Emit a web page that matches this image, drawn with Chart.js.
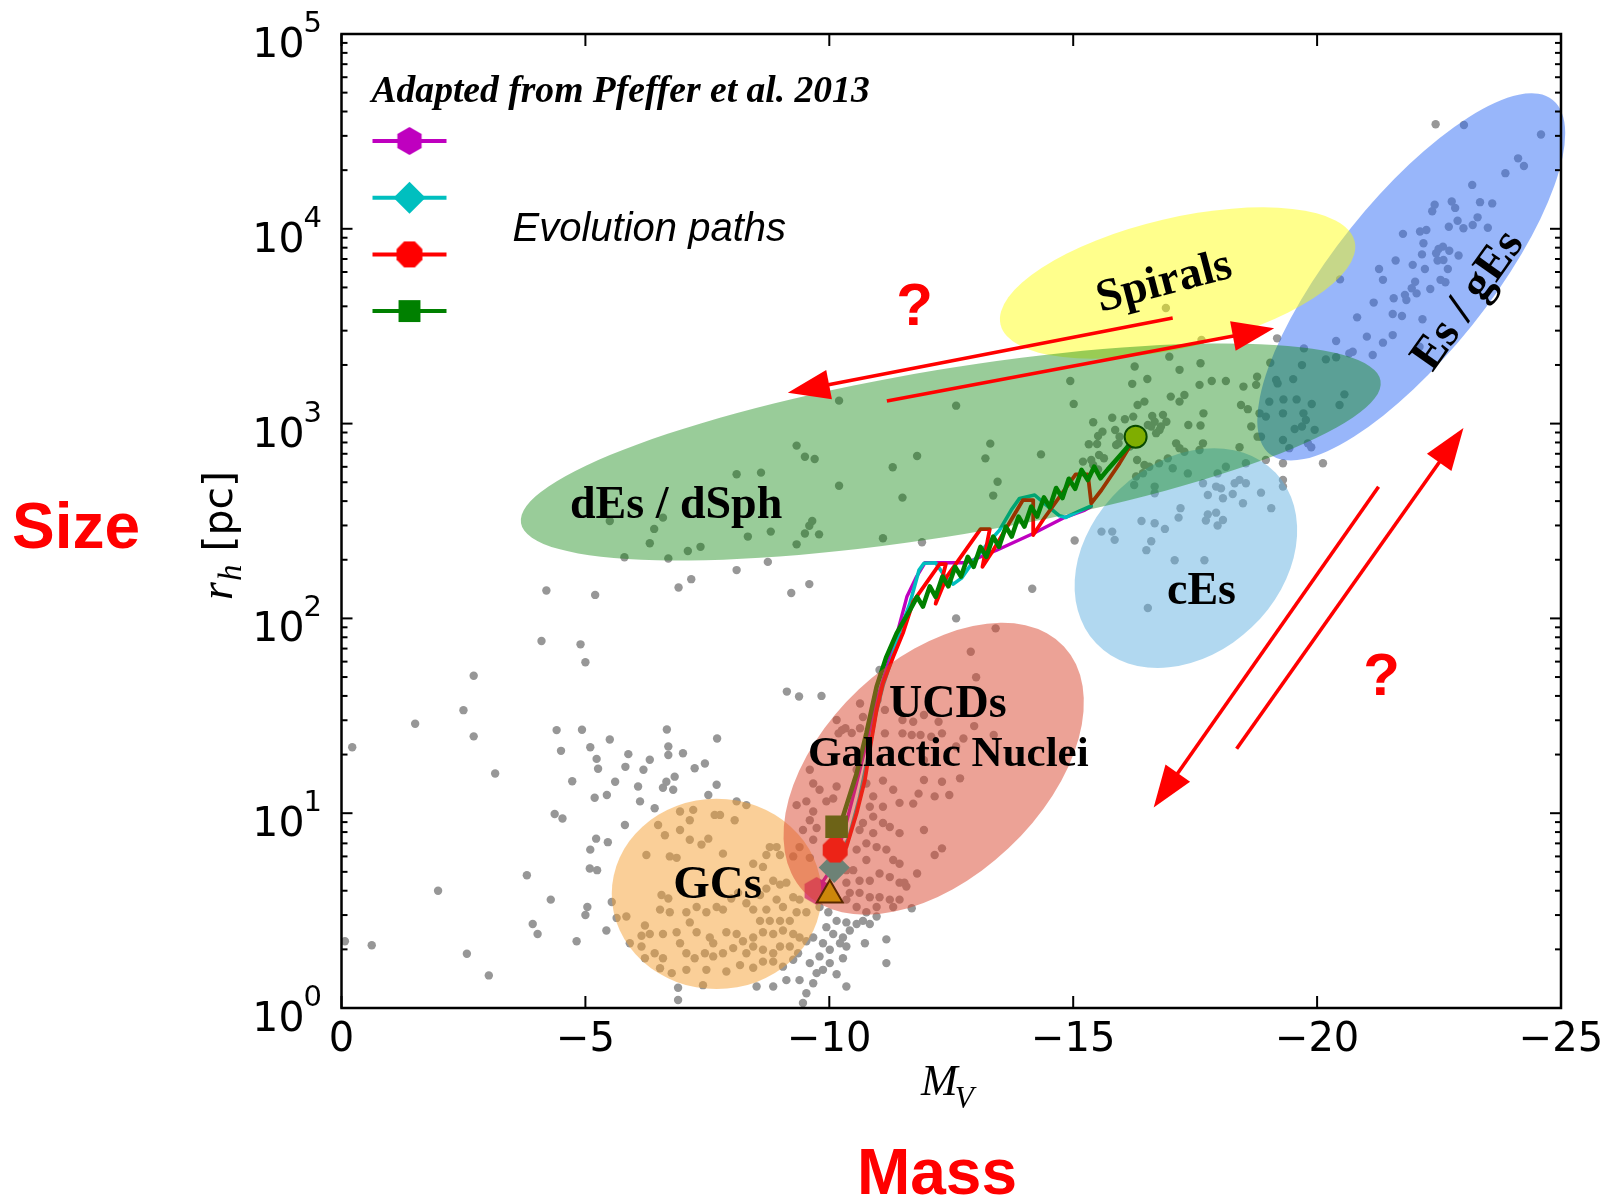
<!DOCTYPE html>
<html>
<head>
<meta charset="utf-8">
<script src="https://cdn.jsdelivr.net/npm/chart.js@4.4.1/dist/chart.umd.min.js"></script>
<style>
  html, body { margin: 0; padding: 0; background: #fff; }
  canvas { display: block; }
</style>
</head>
<body>
<canvas id="chart" width="1608" height="1198"></canvas>
<script>
// ---- Axis ticks -------------------------------------------------------
const xTickValues = [0, -5, -10, -15, -20, -25];
const yTickExponents = [0, 1, 2, 3, 4, 5];

// ---- Star-cluster / galaxy catalogue points: [M_V, r_h (pc)] ---------
const dotsFaint = [
  [-4.20,139],[-5.20,132],[-4.10,76.6],[-4.90,73.6],[-5.00,59.5],[-2.71,50.8],[-2.50,33.8],[-1.51,28.8],
  [-2.71,24.8],[-0.22,21.8],[-4.41,26.7],[-4.93,26.8],[-5.50,23.9],[-4.50,20.9],[-5.10,21.8],[-5.23,19.0],
  [-5.26,16.9],[-5.88,20.1],[-5.82,17.3],[-3.15,16.0],[-4.73,14.6],[-5.61,14.5],[-5.44,12.4],[-5.19,12.0],
  [-4.37,9.9],[-4.53,9.4],[-5.81,8.7],[-5.22,7.4],[-5.46,7.1],[-5.10,6.5],[-5.09,5.2],[-5.24,5.1],
  [-3.80,4.8],[-1.98,4.0],[-4.29,3.6],[-5.04,3.3],[-5.00,3.0],[-3.92,2.7],[-4.02,2.4],[-5.43,2.5],
  [-4.82,2.2],[-0.07,2.2],[-0.62,2.1],[-2.57,1.9],[-3.02,1.47],[-5.64,2.9],[-5.54,3.5],
  [-6.19,16.7],[-6.32,18.8],[-6.70,22.0],[-6.70,19.9],[-7.00,20.3],[-7.24,17.0],[-7.45,18.0],[-6.08,13.7],
  [-6.12,11.5],[-6.59,13.5],[-6.80,13.2],[-6.83,15.4],[-6.66,14.5],[-7.69,14.0],[-7.52,12.4],[-6.42,10.6],
  [-6.67,26.9],[-7.70,24.2]
];
const dotsGC = [
  [-6.94,10.2],[-7.14,9.2],[-7.21,10.4],[-7.65,9.8],[-7.76,9.8],[-8.06,9.2],[-8.10,11.5],[-8.30,11.0],
  [-6.49,8.7],[-6.63,7.7],[-6.94,8.2],[-7.14,7.3],[-7.38,6.9],[-7.52,7.4],[-6.73,6.0],[-6.87,5.9],
  [-7.82,6.2],[-8.44,5.5],[-8.64,5.3],[-8.78,6.7],[-8.92,6.7],[-8.71,6.1],[-8.99,6.1],[-6.25,6.1],
  [-6.56,3.8],[-6.70,3.65],[-6.53,3.2],[-6.73,3.1],[-7.07,3.1],[-7.14,2.75],[-7.28,3.3],[-7.48,3.1],
  [-7.69,3.3],[-7.82,3.2],[-7.99,3.65],[-8.13,3.9],[-8.30,3.45],[-8.58,3.8],[-8.71,4.1],[-8.85,4.5],
  [-8.99,4.3],[-9.12,4.4],[-9.26,3.7],[-9.39,3.6],[-8.92,3.6],[-9.05,3.3],[-8.71,3.2],[-8.44,3.2],
  [-8.58,2.8],[-8.78,2.8],[-8.99,2.8],[-9.19,2.8],[-9.33,3.1],[-9.53,3.1],[-5.84,2.95],[-6.22,2.65],
  [-6.32,2.4],[-6.15,2.35],[-6.59,2.4],[-6.87,2.45],[-6.94,2.15],[-7.28,2.45],[-7.55,2.3],[-7.62,2.15],
  [-7.89,2.45],[-8.10,2.4],[-8.23,2.2],[-8.44,2.3],[-8.64,2.45],[-8.85,2.4],[-9.05,2.5],[-9.26,2.4],
  [-9.39,2.3],[-9.53,2.2],[-5.91,2.15],[-6.15,2.07],[-6.42,1.91],[-6.59,1.80],[-6.22,1.80],[-7.07,1.91],
  [-7.24,1.80],[-7.45,1.91],[-7.62,1.84],[-7.82,1.91],[-8.03,2.03],[-8.30,1.91],[-8.44,2.07],[-8.64,1.99],
  [-8.85,1.91],[-8.99,2.07],[-9.19,2.07],[-9.36,1.91],[-6.53,1.60],[-6.77,1.51],[-7.07,1.57],[-7.48,1.57],
  [-7.89,1.54],[-8.17,1.66],[-8.44,1.61],[-8.64,1.73],[-8.85,1.73],[-9.05,1.63],[-9.26,1.77],[-7.41,1.31],
  [-6.90,1.27],
  [-9.80,3.3],[-9.98,3.1],[-10.15,2.8],[-10.35,2.75],[-9.94,2.6],[-10.08,2.4],[-10.28,2.3],[-10.42,2.5],
  [-10.56,2.7],[-10.69,2.8],[-10.83,2.7],[-9.67,2.3],[-9.87,2.15],[-10.01,1.99],[-10.22,2.15],[-10.35,2.07],
  [-9.80,1.84],[-10.01,1.70],[-10.28,1.80],[-9.60,1.70],[-9.74,1.51],[-9.87,1.57],[-10.15,1.49],[-9.67,1.34],
  [-10.35,1.29],[-9.39,1.39],[-9.12,1.39],[-8.85,1.29],[-8.51,1.29],[-10.73,2.15],[-11.17,2.25],[-11.17,1.70],
  [-10.35,3.6],[-10.56,3.3],[-10.76,3.1],[-10.97,2.95],[-9.53,1.19],[-9.46,1.06],[-6.90,1.10]
];
const dotsUCD = [
  [-9.60,16.7],[-9.67,14.2],[-9.80,13.2],[-9.94,11.5],[-10.15,13.7],[-10.08,11.9],[-9.53,11.5],[-9.33,11.0],
  [-9.67,10.2],[-9.60,9.2],[-9.46,8.2],[-9.74,8.4],[-9.67,7.3],[-9.39,6.7],[-9.60,5.9],[-9.26,6.0],
  [-10.56,16.7],[-10.76,14.2],[-10.90,12.2],[-10.83,10.8],[-11.10,14.7],[-11.31,13.2],[-11.44,11.3],[-11.10,10.8],
  [-10.90,9.6],[-11.10,8.9],[-11.24,8.5],[-11.44,7.9],[-10.69,8.9],[-10.62,8.2],[-10.90,7.9],[-10.76,7.0],
  [-10.97,6.7],[-11.17,6.5],[-11.31,5.75],[-11.44,5.5],[-11.03,4.9],[-11.24,4.7],[-11.44,4.4],[-10.76,5.75],
  [-10.56,6.5],[-10.49,5.1],[-10.62,4.5],[-10.83,4.5],[-10.35,4.4],[-10.42,3.9],[-10.62,3.9],[-10.83,3.7],
  [-11.03,3.7],[-11.24,3.6],[-11.44,3.6],[-11.58,4.2],[-10.97,3.3],[-11.31,3.3],[-10.22,5.3],[-10.35,5.1],
  [-13.41,88.9],[-12.90,67.4],[-13.01,49.9],[-12.60,100],[-10.63,36.6],[-10.99,38.1],[-11.14,33.9],[-11.50,30.1],
  [-11.72,29.5],[-11.94,31.9],[-12.24,29.5],[-12.97,28.0],[-10.33,27.3],[-10.63,27.3],[-10.19,25.7],[-11.14,25.7],
  [-11.50,25.7],[-11.69,25.2],[-11.87,25.2],[-12.09,24.7],[-12.31,25.7],[-12.75,24.2],[-13.37,25.2],[-9.13,42.1],
  [-9.38,39.7],[-9.84,40.0],[-11.03,54.3],
  [-12.68,15.1],[-12.31,14.5],[-11.94,14.8],[-12.16,12.2],[-12.46,12.4],[-11.83,12.6],[-11.72,11.2],[-11.94,8.2],
  [-12.31,6.6],[-12.16,6.1],[-11.80,4.9],[-11.54,4.4],[-11.69,3.25],[-12.60,22.0],[-11.94,18.7],
  [-10.15,30.1],[-10.26,26.7],[-10.46,25.8],[-10.69,31.2]
];
const dotsDwarf = [
  [-5.50,316],[-5.80,206],
  [-10.20,1312],[-12.60,1236],[-9.33,771],[-9.50,676],[-9.70,658],[-11.80,682],[-11.30,597],[-13.30,789],
  [-13.20,663],[-14.34,695],[-8.10,550],[-8.60,560],[-10.20,480],[-11.50,417],[-13.45,503],[-13.36,427],
  [-6.59,329],[-6.41,288],[-9.65,316],[-9.59,299],[-9.50,273],[-9.79,270],[-8.33,263],[-8.80,279],
  [-11.10,258],[-6.32,243],[-7.10,222],[-7.36,233],[-6.70,203],[-9.33,240],[-11.90,246],[-8.10,177],
  [-8.74,195],[-7.17,159],[-6.91,144],[-9.22,135],[-9.59,150],[-14.16,142],[-15.03,251],[-14.94,1656],
  [-15.01,1262],
  [-15.41,1016],[-15.80,1072],[-16.06,1052],[-16.23,1086],[-16.62,1094],[-15.51,863],[-15.60,909],[-15.32,783],
  [-15.49,786],[-15.86,927],[-15.95,857],[-15.93,792],[-15.88,776],[-16.16,762],[-16.53,984],[-16.67,1023],
  [-16.77,927],[-15.20,638],[-15.37,650],[-15.53,690],[-15.63,664],[-15.41,613],[-15.51,582],[-16.31,650],
  [-16.46,613],[-16.76,625],[-16.43,556],[-16.29,535],[-16.25,484],[-16.67,475],
  [-16.26,1963],[-16.97,2206],[-17.18,1888],[-17.61,2042],[-16.52,1694],[-16.21,1600],[-17.59,1581],[-17.84,1655],
  [-18.13,1655],[-18.49,1549],[-18.77,1741],[-18.75,1581],[-17.00,1376],[-17.18,1297],[-17.28,1402],[-16.32,1247],
  [-16.46,1297],[-18.44,1247],[-18.58,1186],[-17.67,1129],[-17.36,984],[-17.61,977],[-16.84,1109],[-16.91,1022],
  [-16.60,966],[-16.70,893],[-16.80,966],[-17.11,792],[-17.28,717],[-17.18,748],[-17.66,792],[-17.59,732],
  [-18.41,756],[-18.65,966],[-18.78,857],[-16.56,601],[-16.94,663],[-17.04,590],[-17.35,555],[-16.67,439],
  [-18.13,601],[-17.96,555],[-18.54,626],[-18.95,651],[-19.30,626],[-20.12,626],[-17.63,2690],[-16.90,3920]
];
const dotsCompact = [
  [-15.58,279],[-15.80,279],[-15.85,253],[-16.40,316],[-16.67,308],[-16.60,249],[-16.50,224],[-16.53,113],
  [-17.66,494],[-17.93,475],[-18.03,465],[-18.31,494],[-18.41,514],[-18.54,494],[-18.85,442],[-18.27,435],
  [-18.07,414],[-17.76,430],[-19.06,368],[-18.48,390],[-17.20,368],[-17.16,329],[-17.76,342],[-17.93,349],
  [-17.72,318],[-18.07,320],[-17.96,300],[-16.88,288],[-17.08,199],[-17.69,199],[-19.30,475],[-19.30,514]
];
const dotsGiant = [
  [-19.04,2053],[-19.16,1673],[-19.19,1608],[-19.51,1692],[-19.73,2433],[-19.69,1997],[-20.18,2137],[-20.39,2190],
  [-20.39,2656],[-20.66,2293],[-20.73,2340],[-21.02,2795],[-21.35,2603],[-21.55,2847],[-21.14,2251],[-20.56,1413],
  [-20.46,1247],[-19.89,1260],[-19.31,1331],[-19.58,1331],[-19.02,1296],[-18.82,1129],[-18.95,1086],[-19.30,1129],
  [-19.72,1129],[-19.77,1044],[-19.95,929],[-19.54,938],[-19.69,966],[-19.30,824],[-19.43,748],[-19.81,792],
  [-19.88,756],[-18.85,857],
  [-22.43,34400],[-23.01,34100],[-24.59,30500],[-24.12,23000],[-24.24,21000],[-23.86,19300],[-23.18,16800],[-22.76,13800],
  [-22.83,12800],[-23.34,13700],[-23.59,13500],[-22.41,13300],[-22.36,12300],[-22.88,11000],[-22.70,10250],[-23.00,10060],
  [-23.19,10460],[-23.29,11450],[-23.50,10130],[-21.76,9420],[-22.11,9680],[-22.24,9860],[-22.18,8430],[-22.15,7390],
  [-22.49,7880],[-22.58,8100],[-22.71,7720],[-22.44,7490],[-22.90,7290],[-21.61,6870],[-21.96,6530],[-22.21,6220],
  [-22.47,6870],[-22.59,6910],[-22.68,6220],[-21.27,6220],[-21.35,5470],[-22.01,5350],[-21.94,4950],[-22.04,4660],
  [-22.53,5470],[-22.63,5320],[-22.32,4910],[-21.57,4400],[-21.80,4580],[-21.83,4310],[-21.16,4180],[-21.55,3650],
  [-21.74,3570],[-22.16,3430],[-20.82,3510],[-20.47,5500],[-19.18,2740],[-22.10,2480]
];

// ---- Simulated evolution paths: [M_V, r_h (pc)] -----------------------
const pathMagenta = [
  [-9.74,3.99],[-10.00,5.0],[-10.30,8.0],[-10.55,14],[-10.80,25],[-11.00,40],[-11.20,58],[-11.41,87.2],
  [-11.59,129],[-11.79,164],[-11.96,193],[-12.81,193],[-13.43,224],[-14.18,273],[-14.79,327],[-15.24,360],[-15.37,375]
];
const pathCyan = [
  [-10.10,5.26],[-10.40,7.5],[-10.62,12],[-10.80,20],[-10.95,32],[-11.10,45],[-11.28,62],[-11.48,90.8],
  [-11.65,119],[-11.84,177],[-11.94,192],[-12.18,193],[-12.37,164],[-12.54,150],[-12.71,161],[-12.95,196],
  [-13.22,238],[-13.49,284],[-13.73,360],[-13.90,413],[-14.21,430],[-14.45,382],[-14.72,336],[-14.85,330],
  [-15.10,353],[-15.37,378]
];
const pathRed = [
  [-10.12,6.47],[-10.35,6.7],[-10.56,10.0],[-10.73,14.8],[-10.83,21.1],[-10.97,33.9],[-11.10,46.4],[-11.31,63.5],
  [-11.51,84],[-11.72,122],[-12.26,190],[-12.39,190],[-12.18,119],[-12.41,164],[-13.10,287],[-13.29,287],
  [-13.14,184],[-13.36,224],[-13.97,405],[-14.18,405],[-14.18,268],[-14.38,320],[-15.05,549],[-15.30,549],
  [-15.37,390],[-15.58,456],[-15.95,625],[-16.28,857]
];
const pathGreen = [
  [-10.15,8.52],[-10.28,9.6],[-10.56,16.0],[-10.76,25.7],[-10.97,44.6],[-11.17,63.5],[-11.38,83.8],[-11.65,110],
  [-11.80,129],[-11.92,115],[-12.06,146],[-12.18,129],[-12.32,164],[-12.44,146],[-12.58,184],[-12.70,164],
  [-12.84,207],[-12.96,184],[-13.10,233],[-13.22,207],[-13.36,263],[-13.48,233],[-13.62,296],[-13.74,263],
  [-13.88,333],[-14.00,296],[-14.14,375],[-14.26,333],[-14.40,418],[-14.52,372],[-14.65,467],[-14.78,415],
  [-14.91,521],[-15.04,463],[-15.17,578],[-15.30,513],[-15.43,601],[-15.56,524],[-15.71,582],[-15.88,650],
  [-16.09,746],[-16.28,857]
];
// start markers (hexagon, diamond, octagon, square) and the common start / end points
const startPoints = [[-9.74,3.99],[-10.10,5.26],[-10.12,6.47],[-10.15,8.52]];
const seedPoint = [-10.01,3.80];
const endPoint = [-16.28,857];

// ---- Population regions: centre, major-axis end, minor-axis end -------
const regions = [
  { c:[-7.69,3.85],   major:[-9.84,3.85],   minor:[-7.69,1.25],  fill:'rgba(245,160,50,0.5)' },
  { c:[-12.14,16.9],  major:[-14.81,71.8],  minor:[-13.67,6.59], fill:'rgba(217,70,45,0.5)' },
  { c:[-21.93,5660],  major:[-24.83,45900], minor:[-23.17,3177], fill:'rgba(50,110,245,0.5)' },
  { c:[-17.31,204],   major:[-19.15,559],   minor:[-18.56,85.5], fill:'rgba(100,178,226,0.5)' },
  { c:[-17.14,5270],  major:[-20.77,8610],  minor:[-17.44,2494], fill:'rgba(255,255,0,0.45)' },
  { c:[-12.49,715],   major:[-21.30,1659],  minor:[-12.77,271.6],fill:'rgba(0,128,0,0.4)' }
];
const regionLabels = [
  { text:'dEs / dSph',      at:[-6.86,329],  rot:0,     size:46 },
  { text:'cEs',             at:[-17.63,119], rot:0,     size:46 },
  { text:'UCDs',            at:[-12.43,31.3],rot:0,     size:46 },
  { text:'Galactic Nuclei', at:[-12.44,17.5],rot:0,     size:43 },
  { text:'GCs',             at:[-7.71,3.68], rot:0,     size:47 },
  { text:'Spirals',         at:[-16.93,4600],rot:-14.7, size:46 },
  { text:'Es / gEs',        at:[-23.31,3920],rot:-54.6, size:47 }
];
const arrows = [
  { from:[-17.04,3483], to:[-9.15,1442] },
  { from:[-11.18,1306], to:[-19.12,3084] },
  { from:[-21.26,474],  to:[-16.65,10.7] },
  { from:[-18.35,21.4], to:[-23.00,949] }
];
const questionMarks = [[-11.75,3206], [-21.32,40.4]];

// ---- Marker shapes ----------------------------------------------------
function polygonMarker(sides, radius, startDeg, fill) {
  const size = Math.ceil(radius * 2 + 4);
  const cv = document.createElement('canvas');
  cv.width = size; cv.height = size;
  const g = cv.getContext('2d');
  g.beginPath();
  for (let i = 0; i < sides; i++) {
    const a = (startDeg + i * 360 / sides) * Math.PI / 180;
    const x = size / 2 + radius * Math.cos(a), y = size / 2 + radius * Math.sin(a);
    if (i) g.lineTo(x, y); else g.moveTo(x, y);
  }
  g.closePath();
  g.fillStyle = fill;
  g.fill();
  return cv;
}
const MAGENTA = '#bf00bf', CYAN = '#00bfbf', RED = '#ff0000', GREEN = '#008000';
const hexPlot = polygonMarker(6, 14, -90, MAGENTA);
const octPlot = polygonMarker(8, 13.5, -67.5, RED);
const hexLegend = polygonMarker(6, 14, -90, MAGENTA);
const octLegend = polygonMarker(8, 14, -67.5, RED);

const xy = arr => arr.map(p => ({ x: p[0], y: p[1] }));
const allDots = [].concat(dotsFaint, dotsGC, dotsUCD, dotsDwarf, dotsCompact, dotsGiant);

function pathDataset(points, color, width, order) {
  return {
    type: 'line', data: xy(points), borderColor: color, borderWidth: width,
    pointRadius: 0, fill: false, tension: 0, order,
    borderJoinStyle: 'round', borderCapStyle: 'round'
  };
}

// ---- Drawing helpers --------------------------------------------------
function toPx(chart, p) {
  return { x: chart.scales.x.getPixelForValue(p[0]), y: chart.scales.y.getPixelForValue(p[1]) };
}
function drawRegions(chart) {
  const ctx = chart.ctx;
  ctx.save();
  for (const r of regions) {
    const c = toPx(chart, r.c), m = toPx(chart, r.major), n = toPx(chart, r.minor);
    const a = Math.hypot(m.x - c.x, m.y - c.y);
    const b = Math.hypot(n.x - c.x, n.y - c.y);
    const ang = Math.atan2(m.y - c.y, m.x - c.x);
    ctx.beginPath();
    ctx.ellipse(c.x, c.y, a, b, ang, 0, Math.PI * 2);
    ctx.fillStyle = r.fill;
    ctx.fill();
  }
  ctx.restore();
}
function drawArrow(ctx, p0, p1) {
  const dx = p1.x - p0.x, dy = p1.y - p0.y, len = Math.hypot(dx, dy);
  const ux = dx / len, uy = dy / len, head = 42, half = 15;
  const bx = p1.x - ux * head, by = p1.y - uy * head;
  ctx.beginPath();
  ctx.moveTo(p0.x, p0.y);
  ctx.lineTo(bx + ux * 2, by + uy * 2);
  ctx.stroke();
  ctx.beginPath();
  ctx.moveTo(p1.x, p1.y);
  ctx.lineTo(bx - uy * half, by + ux * half);
  ctx.lineTo(bx + uy * half, by - ux * half);
  ctx.closePath();
  ctx.fill();
}
function line(ctx, x0, y0, x1, y1) {
  ctx.beginPath(); ctx.moveTo(x0, y0); ctx.lineTo(x1, y1); ctx.stroke();
}

const overlay = {
  id: 'overlay',
  beforeDraw(chart) {
    const ctx = chart.ctx;
    ctx.save(); ctx.fillStyle = '#fff'; ctx.fillRect(0, 0, chart.width, chart.height); ctx.restore();
  },
  beforeDatasetDraw(chart, args) {
    if (chart.data.datasets[args.index].layer === 'top') drawRegions(chart);
  },
  afterDatasetsDraw(chart) {
    const ctx = chart.ctx;
    const { left, right, top, bottom } = chart.chartArea;
    const sx = chart.scales.x, sy = chart.scales.y;
    ctx.save();

    // region names
    ctx.fillStyle = '#000';
    ctx.textAlign = 'center';
    ctx.textBaseline = 'alphabetic';
    for (const l of regionLabels) {
      const p = toPx(chart, l.at);
      ctx.save();
      ctx.translate(p.x, p.y);
      ctx.rotate(l.rot * Math.PI / 180);
      ctx.font = 'bold ' + l.size + 'px "Liberation Serif"';
      ctx.fillText(l.text, 0, 0);
      ctx.restore();
    }

    // arrows and question marks
    ctx.strokeStyle = RED; ctx.fillStyle = RED; ctx.lineWidth = 3.6;
    for (const a of arrows) drawArrow(ctx, toPx(chart, a.from), toPx(chart, a.to));
    ctx.font = 'bold 60px "Liberation Sans"';
    for (const q of questionMarks) { const p = toPx(chart, q); ctx.fillText('?', p.x, p.y); }

    // legend
    const legendRows = [
      { color: MAGENTA, style: hexLegend, r: 14 },
      { color: CYAN, style: 'rectRot', r: 16 },
      { color: RED, style: octLegend, r: 14 },
      { color: GREEN, style: 'rect', r: 15.5 }
    ];
    legendRows.forEach((row, i) => {
      const y = top + 107 + i * 56.7;
      ctx.strokeStyle = row.color; ctx.lineWidth = 4;
      line(ctx, left + 31, y, left + 105, y);
      ctx.fillStyle = row.color;
      Chart.helpers.drawPoint(ctx, { pointStyle: row.style, radius: row.r, rotation: 0, borderWidth: 0 }, left + 68, y);
    });
    ctx.fillStyle = '#000';
    ctx.textAlign = 'left';
    ctx.font = 'italic bold 37.6px "Liberation Serif"';
    ctx.fillText('Adapted from Pfeffer et al. 2013', left + 30, top + 68);
    ctx.font = 'italic 40px "Liberation Sans"';
    ctx.fillText('Evolution paths', left + 171, top + 207);

    // frame and inward ticks
    ctx.strokeStyle = '#000'; ctx.lineWidth = 2.5;
    ctx.strokeRect(left, top, right - left, bottom - top);
    ctx.lineWidth = 2;
    for (const v of xTickValues) {
      const X = sx.getPixelForValue(v);
      line(ctx, X, bottom, X, bottom - 12);
      line(ctx, X, top, X, top + 12);
    }
    for (const e of yTickExponents) {
      const Y = sy.getPixelForValue(Math.pow(10, e));
      line(ctx, left, Y, left + 11, Y);
      line(ctx, right, Y, right - 11, Y);
      if (e < 5) {
        for (let m = 2; m <= 9; m++) {
          const Ym = sy.getPixelForValue(m * Math.pow(10, e));
          line(ctx, left, Ym, left + 6, Ym);
          line(ctx, right, Ym, right - 6, Ym);
        }
      }
    }

    // tick labels
    ctx.fillStyle = '#000';
    ctx.textAlign = 'center';
    ctx.font = '40px "DejaVu Sans"';
    for (const v of xTickValues) {
      const X = sx.getPixelForValue(v);
      ctx.fillText(v === 0 ? '0' : '\u2212' + Math.abs(v), X, bottom + 43);
    }
    for (const e of yTickExponents) {
      const Y = sy.getPixelForValue(Math.pow(10, e));
      ctx.textAlign = 'right';
      ctx.font = '41px "DejaVu Sans"';
      ctx.fillText('10', left - 37, Y + 23);
      ctx.textAlign = 'left';
      ctx.font = '29px "DejaVu Sans"';
      ctx.fillText(String(e), left - 38, Y - 2);
    }

    // axis titles
    ctx.textAlign = 'left';
    ctx.font = 'italic 44px "Liberation Serif"';
    ctx.fillText('M', 921, 1095);
    const mw = ctx.measureText('M').width;
    ctx.font = 'italic 31px "Liberation Serif"';
    ctx.fillText('V', 921 + mw - 3, 1108);

    ctx.save();
    ctx.translate(232, 600);
    ctx.rotate(-Math.PI / 2);
    ctx.font = 'italic 46px "Liberation Serif"';
    ctx.fillText('r', 0, 0);
    let cx = ctx.measureText('r').width + 1;
    ctx.font = 'italic 33px "Liberation Serif"';
    ctx.fillText('h', cx, 9);
    cx += ctx.measureText('h').width;
    ctx.font = '41px "DejaVu Sans"';
    ctx.fillText(' [pc]', cx, 0);
    ctx.restore();

    // outer labels
    ctx.fillStyle = RED;
    ctx.textAlign = 'center';
    ctx.font = 'bold 64px "Liberation Sans"';
    ctx.fillText('Size', 76, 548);
    ctx.fillText('Mass', 937, 1194);

    ctx.restore();
  }
};

new Chart(document.getElementById('chart'), {
  data: {
    datasets: [
      { type: 'scatter', data: xy(allDots), pointRadius: 4.2, pointBorderWidth: 0,
        pointBackgroundColor: '#979797', order: 20 },
      pathDataset(pathMagenta, MAGENTA, 3.4, 9),
      pathDataset(pathCyan, CYAN, 3.6, 8),
      pathDataset(pathRed, RED, 3.8, 7),
      pathDataset(pathGreen, GREEN, 4.6, 6),
      { type: 'scatter', data: xy(startPoints), order: 3,
        pointStyle: [hexPlot, 'rectRot', octPlot, 'rect'],
        pointRadius: [14, 15.5, 13.5, 16], pointBorderWidth: 0,
        pointBackgroundColor: [MAGENTA, CYAN, RED, GREEN] },
      { type: 'scatter', data: xy([seedPoint, endPoint]), order: 1, layer: 'top',
        pointStyle: ['triangle', 'circle'], pointRadius: [15, 11], pointBorderWidth: 2,
        pointBackgroundColor: ['#cd870a', '#7fae00'], pointBorderColor: ['#5a2800', '#0a4a00'] }
    ]
  },
  options: {
    responsive: false,
    animation: false,
    events: [],
    layout: { padding: { left: 341.5, right: 47, top: 34, bottom: 190 } },
    plugins: { legend: { display: false }, tooltip: { enabled: false } },
    scales: {
      x: { type: 'linear', min: -25, max: 0, reverse: true, display: false },
      y: { type: 'logarithmic', min: 1, max: 100000, display: false }
    }
  },
  plugins: [overlay]
});
</script>
</body>
</html>
